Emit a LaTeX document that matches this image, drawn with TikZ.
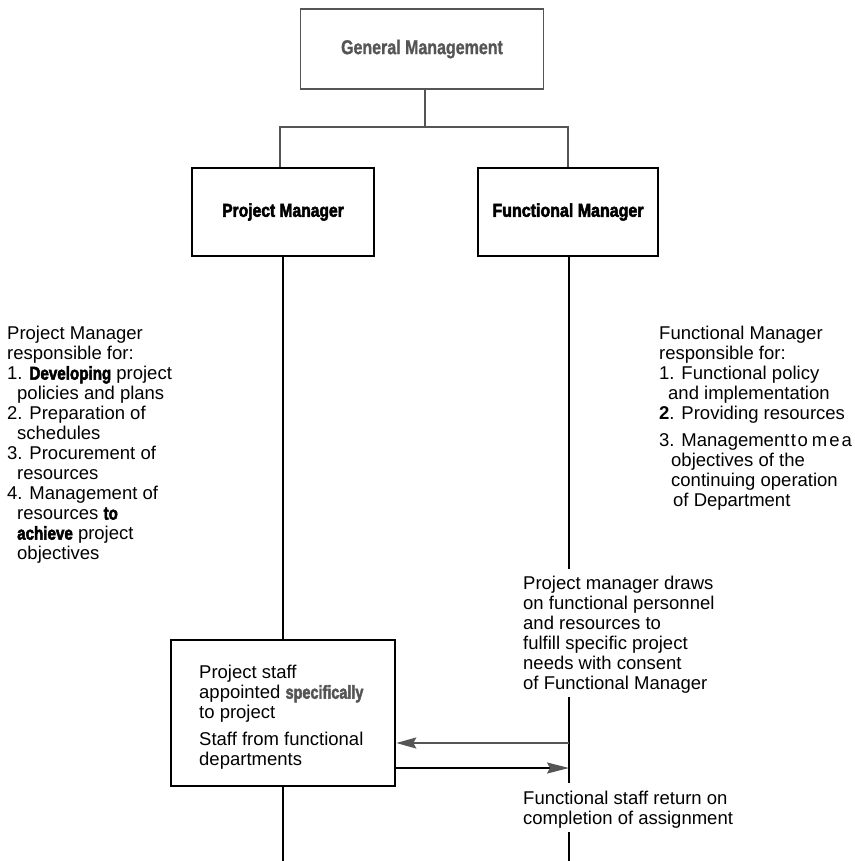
\documentclass[tikz,border=0pt]{standalone}
\usepackage{fontspec}
\setmainfont{Liberation Sans}
\newfontfamily\heavyfont[FakeBold=3]{Liberation Sans Bold}
\newfontfamily\semiheavyfont[FakeBold=1.2]{Liberation Sans Bold}
\usetikzlibrary{arrows.meta}
\definecolor{scangray}{HTML}{555555}
\newcommand\condb[2][0.85]{\scalebox{#1}[1]{\heavyfont #2}}
\newcommand\bodyfont{\fontsize{18.5}{20}\selectfont}
\tikzset{
  topbox/.style={draw=scangray, line width=1.6pt, minimum width=243pt, minimum height=80pt, inner sep=0pt},
  mgrbox/.style={draw=black, line width=2.6pt, inner sep=0pt},
  link/.style={draw=scangray, line width=1.5pt},
  vline/.style={draw=black, line width=2pt},
  notes/.style={anchor=north west, inner sep=0pt, align=left, font=\bodyfont},
  tipL/.style={-{Stealth[length=20pt,width=11pt,inset=3pt]}},
}
\begin{document}
\begin{tikzpicture}[x=1pt,y=-1pt]
\useasboundingbox (0,0) rectangle (854,861);

% top of the hierarchy
\node[topbox, text=scangray] (gm) at (422,49)
  {\fontsize{20}{22}\selectfont\scalebox{0.8}[1]{\semiheavyfont General Management}};

% the two managers
\node[mgrbox, minimum width=182pt, minimum height=88pt] (pm) at (283,212)
  {\fontsize{18.6}{20}\selectfont\condb[0.84]{Project Manager}};
\node[mgrbox, minimum width=180pt, minimum height=88pt] (fm) at (568,212)
  {\fontsize{18.6}{20}\selectfont\condb[0.86]{Functional Manager}};

% tree connectors
\coordinate (split) at (425,127);
\coordinate (splitL) at (280,127);
\coordinate (splitR) at (568,127);
\draw[link] (gm.south -| split) -- (split);
\draw[link] (splitL |- pm.north) -- (splitL) -- (splitR) -- (splitR |- fm.north);

% project staff box
\node[mgrbox, minimum width=224pt, minimum height=146pt] (ps) at (283,713) {};
\node[notes] (pstext) at (199,665) {Project staff\\
appointed \textcolor{scangray}{\condb[0.78]{specifically}}\\
to project\\[7pt]
Staff from functional\\
departments};

% project manager line
\coordinate (pmend) at (283,861);
\draw[vline] (pm.south) -- (ps.north);
\draw[vline] (ps.south) -- (pmend);

% functional manager line, broken by its notes
\coordinate (fa) at (569,569);
\coordinate (fb) at (569,697);
\coordinate (fc) at (569,783);
\coordinate (fd) at (569,832);
\coordinate (fe) at (569,861);
\draw[vline] (fm.south -| fa) -- (fa);
\draw[vline] (fb) -- (fc);
\draw[vline] (fd) -- (fe);

% staff flows
\coordinate (out) at (569,743);
\coordinate (back) at (569,768);
\draw[draw=scangray, line width=2pt, tipL] (out) -- (out -| ps.east);
\draw[draw=black, line width=2pt, -{Stealth[length=22pt,width=11pt,inset=3pt,color=scangray]}] (back -| ps.east) -- (back);

% responsibilities
\node[notes] (pmnotes) at (7,326) {Project Manager\\
responsible for:\\
1. \condb[0.82]{Developing} project\\
\hspace*{10pt}policies and plans\\
2. Preparation of\\
\hspace*{10pt}schedules\\
3. Procurement of\\
\hspace*{10pt}resources\\
4. Management of\\
\hspace*{10pt}resources \condb[0.82]{to}\\
\hspace*{10pt}\condb[0.82]{achieve} project\\
\hspace*{10pt}objectives};

\node[notes] (fmnotes) at (659,326) {Functional Manager\\
responsible for:\\
1. Functional policy\\
\hspace*{9pt}and implementation\\
\textbf{2}. Providing resources\\[7pt]
3. Management\kern1.5pt t\kern1.5pt o\kern4pt m\kern2pt e\kern2pt a\\
\hspace*{12pt}objectives of the\\
\hspace*{12pt}continuing operation\\
\hspace*{14pt}of Department};

\node[notes] (draws) at (523,576) {Project manager draws\\
on functional personnel\\
and resources to\\
fulfill specific project\\
needs with consent\\
of Functional Manager};

\node[notes] (ret) at (523,791) {Functional staff return on\\
completion of assignment};
\end{tikzpicture}
\end{document}
